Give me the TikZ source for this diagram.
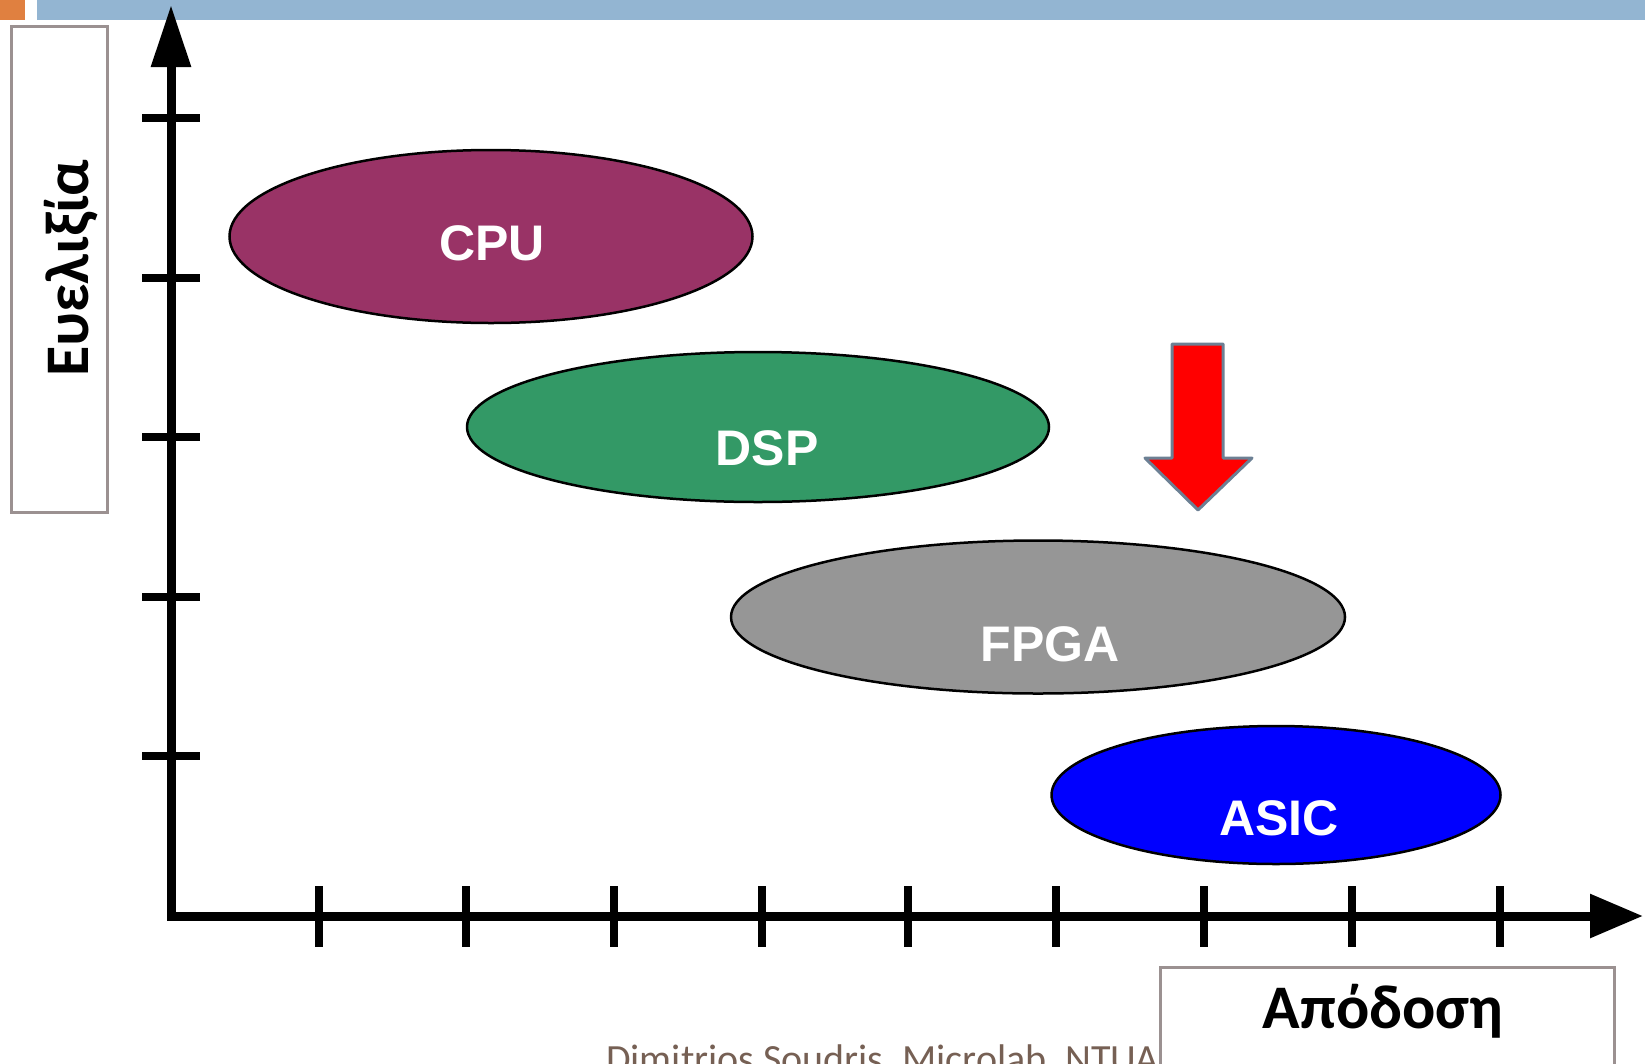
\documentclass[tikz,border=0pt]{standalone}
\usepackage{fontspec}
\setmainfont{Liberation Sans}
\newfontfamily\calib{Carlito}
\usetikzlibrary{shapes.geometric,arrows.meta}
\definecolor{cpuc}{RGB}{153,51,102}
\definecolor{dspc}{RGB}{51,153,102}
\definecolor{fpgac}{RGB}{150,150,150}
\definecolor{asicc}{RGB}{0,0,255}
\definecolor{barblue}{RGB}{147,181,210}
\definecolor{barorange}{RGB}{224,128,64}
\definecolor{boxgray}{RGB}{155,145,145}
\definecolor{slate}{RGB}{108,128,148}
\definecolor{footc}{RGB}{118,96,84}
\tikzset{
  blob/.style={ellipse, draw=black, line width=2.5pt, inner sep=0pt},
  blobtext/.style={text=white, font=\fontsize{50}{60}\selectfont\bfseries, inner sep=0pt},
  axisline/.style={line width=9pt, line join=miter},
  tickline/.style={line width=8pt},
  labbox/.style={draw=boxgray, line width=3pt, inner sep=0pt, fill=white},
  labtext/.style={font=\calib\fontsize{62}{72}\selectfont\bfseries, inner sep=0pt},
}
\begin{document}
\begin{tikzpicture}[x=1pt,y=-1pt]
\useasboundingbox (0,0) rectangle (1645,1063);
\clip (0,0) rectangle (1645,1063);
% top bars
\fill[barorange] (0,0) rectangle (25,20);
\fill[barblue] (37,0) rectangle (1645,20);
% axis label boxes
\node[labbox, minimum width=96pt, minimum height=486pt] (ybox) at (59.5,269) {};
\node[labtext, rotate=90, anchor=base] (ylab) at (88,268) {Ευελιξία};
\node[labbox, minimum width=454pt, minimum height=140pt] (xbox) at (1387,1037) {};
\node[labtext, anchor=base] (xlab) at (1383,1028) {Απόδοση};
% footer
\node[font=\calib\fontsize{40}{48}\selectfont, text=footc, anchor=base west, inner sep=0pt] (foot) at (606,1072) {Dimitrios Soudris, Microlab, NTUA};
% axes
\coordinate (ytop) at (171,5);
\coordinate (origin) at (171,916);
\coordinate (xend) at (1643,916);
\draw[axisline, arrows={Triangle[length=62pt,width=38pt]-Triangle[length=53pt,width=42pt]}] (ytop) -- (origin) -- (xend);
\foreach \yy in {118,278,437,597,756} \draw[tickline] (142,\yy) -- (200,\yy);
\foreach \xx in {319,466,614,762,908,1056,1204,1352,1500} \draw[tickline] (\xx,886) -- (\xx,947);
% ellipses
\node[blob, fill=cpuc, minimum width=523pt, minimum height=173pt] (cpu) at (491,236.5) {};
\node[blobtext] (cputext) at ([shift={(1,7)}]cpu.center) {CPU};
\node[blob, fill=dspc, minimum width=582pt, minimum height=150pt] (dsp) at (758,427) {};
\node[blobtext] (dsptext) at ([shift={(9,21)}]dsp.center) {DSP};
\node[blob, fill=fpgac, minimum width=614pt, minimum height=153pt] (fpga) at (1038,617) {};
\node[blobtext] (fpgatext) at ([shift={(12,27)}]fpga.center) {FPGA};
\node[blob, fill=asicc, minimum width=449pt, minimum height=138pt] (asic) at (1276,795) {};
\node[blobtext] (asictext) at ([shift={(3,23)}]asic.center) {ASIC};
% red arrow
\draw[fill=red, draw=slate, line width=3pt, line join=round] (1172,344) -- (1223,344) -- (1223,458) -- (1252,458) -- (1198,510) -- (1145,458) -- (1172,458) -- cycle;
\end{tikzpicture}
\end{document}
